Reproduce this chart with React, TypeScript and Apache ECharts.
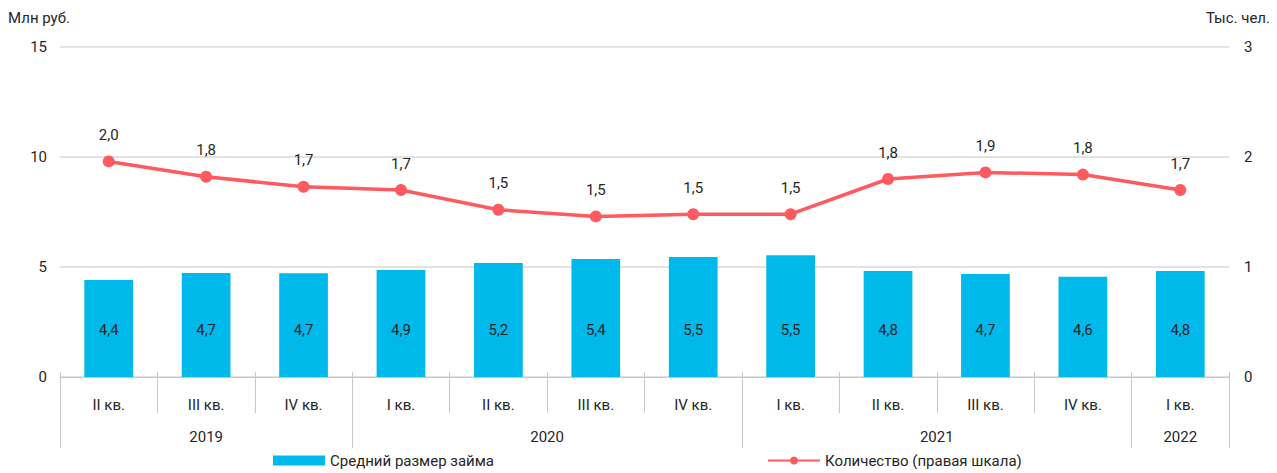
import React, { useEffect, useRef } from "react";
import * as echarts from "echarts";

const quarters = ["II кв.", "III кв.", "IV кв.", "I кв.", "II кв.", "III кв.", "IV кв.", "I кв.", "II кв.", "III кв.", "IV кв.", "I кв."];
const years = ["2019", "2020", "2021", "2022"];
const yearCenters = [1.5, 5, 9, 11.5];
const yearBounds = [0, 3, 7, 11, 12];
const loanSize = [4.41, 4.73, 4.72, 4.86, 5.18, 5.36, 5.45, 5.53, 4.82, 4.68, 4.56, 4.82];
const borrowers = [1.96, 1.82, 1.73, 1.7, 1.52, 1.46, 1.48, 1.48, 1.8, 1.86, 1.84, 1.7];
const leftTicks = [0, 5, 10, 15];
const rightTicks = [0, 1, 2, 3];

const FONT = "Roboto, 'Noto Sans', sans-serif";
const TXT = "#262626";
const fmt = (v: number) => v.toFixed(1).replace(".", ",");

export default function App() {
  const ref = useRef<HTMLDivElement>(null);
  useEffect(() => {
    const chart = echarts.init(ref.current!, null, { renderer: "svg" });
    chart.setOption({
      animation: false,
      textStyle: { fontFamily: FONT, color: TXT },
      grid: { left: 60, right: 48, top: 47, bottom: 96, containLabel: false },
      legend: {
        left: 268,
        top: 448,
        itemGap: 273,
        itemWidth: 52,
        itemHeight: 10,
        textStyle: { fontFamily: FONT, fontSize: 15, color: TXT },
        data: [
          { name: "Средний размер займа", icon: "rect" },
          { name: "Количество (правая шкала)" },
        ],
      },
      graphic: [
        { type: "text", left: 8, top: 10, style: { text: "Млн руб.", font: `15px ${FONT}`, fill: TXT } },
        { type: "text", right: 7, top: 10, style: { text: "Тыс. чел.", font: `15px ${FONT}`, fill: TXT } },
      ],
      xAxis: [
        {
          type: "category",
          data: quarters,
          boundaryGap: true,
          axisLine: { show: true, lineStyle: { color: "#c8c8c8", width: 1 } },
          axisTick: { show: true, interval: 0, length: 36, lineStyle: { color: "#c8c8c8" } },
          axisLabel: { interval: 0, margin: 20, fontSize: 15, color: TXT, fontFamily: FONT },
        },
        {
          type: "value",
          min: 0,
          max: 12,
          position: "bottom",
          axisLine: { show: false },
          splitLine: { show: false },
          axisTick: { show: true, length: 71, customValues: yearBounds, lineStyle: { color: "#c8c8c8" } },
          axisLabel: {
            margin: 52,
            fontSize: 15,
            color: TXT,
            fontFamily: FONT,
            customValues: yearCenters,
            formatter: (v: number) => {
              const i = yearCenters.indexOf(v);
              return i >= 0 ? years[i] : "";
            },
          },
        },
        {
          type: "value",
          min: 0,
          max: 12,
          position: "bottom",
          axisLine: { show: false },
          splitLine: { show: false },
          axisTick: { show: true, inside: true, length: 5, customValues: [0, 1, 2, 3, 4, 5, 6, 7, 8, 9, 10, 11, 12], lineStyle: { color: "#c8c8c8" } },
          axisLabel: { show: false },
        },
      ],
      yAxis: [
        {
          type: "value",
          min: 0,
          max: 15,
          interval: 5,
          axisLine: { show: false },
          axisTick: { show: false },
          splitLine: { lineStyle: { color: "#d9d9d9", width: 1.5 } },
          axisLabel: {
            margin: 13,
            fontSize: 15,
            color: TXT,
            fontFamily: FONT,
            formatter: (v: number) => (leftTicks.includes(v) ? String(v) : ""),
          },
        },
        {
          type: "value",
          min: 0,
          max: 3,
          interval: 1,
          axisLine: { show: false },
          axisTick: { show: false },
          splitLine: { show: false },
          axisLabel: {
            margin: 15,
            fontSize: 15,
            color: TXT,
            fontFamily: FONT,
            formatter: (v: number) => (rightTicks.includes(v) ? String(v) : ""),
          },
        },
      ],
      series: [
        {
          name: "Средний размер займа",
          type: "bar",
          xAxisIndex: 0,
          yAxisIndex: 0,
          data: loanSize,
          barWidth: "50%",
          itemStyle: { color: "#00B9EB" },
          label: {
            show: true,
            position: "insideBottom",
            distance: 40,
            fontSize: 15,
            color: TXT,
            fontFamily: FONT,
            formatter: (p: any) => fmt(p.value),
          },
        },
        {
          name: "Количество (правая шкала)",
          type: "line",
          xAxisIndex: 0,
          yAxisIndex: 1,
          data: borrowers,
          symbol: "circle",
          symbolSize: 12,
          lineStyle: { color: "#FF5A5F", width: 3.5 },
          itemStyle: { color: "#FF5A5F" },
          label: {
            show: true,
            position: "top",
            distance: 13,
            fontSize: 15,
            color: TXT,
            fontFamily: FONT,
            formatter: (p: any) => fmt(p.value),
          },
        },
      ],
    });
    return () => chart.dispose();
  }, []);
  return <div ref={ref} style={{ position: "absolute", left: 0, top: 0, width: 1277, height: 473 }} />;
}
